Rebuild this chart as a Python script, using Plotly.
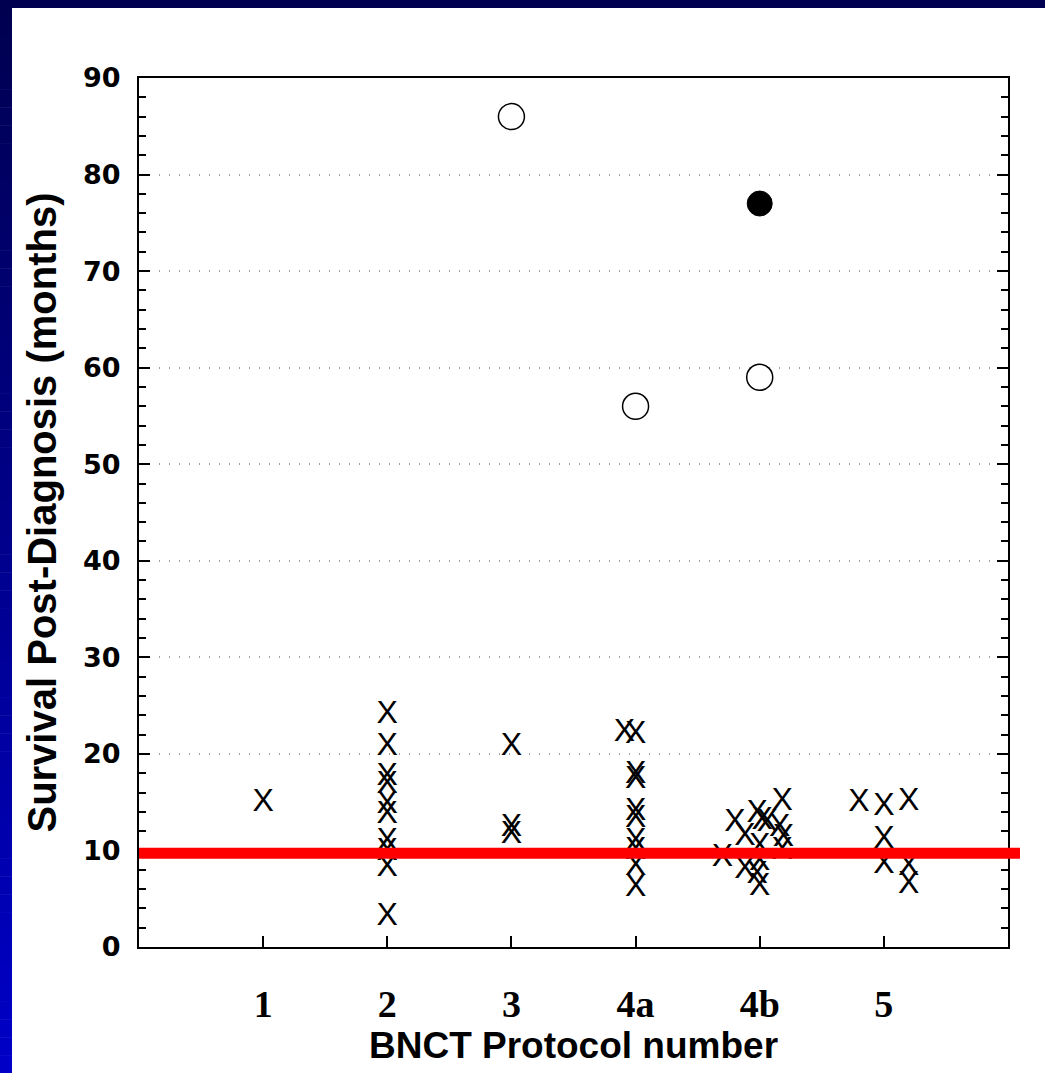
import plotly.graph_objects as go

# ---------------- data ----------------
protocols = ["1", "2", "3", "4a", "4b", "5"]
protocol_pos = [1, 2, 3, 4, 5, 6]

# deceased patients (drawn as "X"): protocol slot incl. the chart's horizontal jitter, survival in months
dead_pos = [1,
            2, 2, 2, 2, 2, 2, 2, 2, 2, 2,
            3, 3, 3,
            3.91, 4, 4, 4, 4, 4, 4, 4, 4, 4,
            4.70, 4.80, 4.88, 4.88, 4.98, 5.02, 5.06, 5.0, 5.0, 4.98, 5.0, 5.18, 5.16, 5.19, 5.18,
            5.80, 6.0, 6.20, 6.0, 6.0, 6.20, 6.20]
dead_months = [14.9,
               24.0, 20.7, 17.6, 16.8, 14.7, 13.7, 10.9, 9.8, 8.2, 3.1,
               20.7, 12.3, 11.6,
               22.2, 22.0, 17.8, 17.3, 14.0, 13.3, 10.9, 9.9, 8.3, 6.1,
               9.2, 12.8, 11.4, 8.0, 13.8, 13.1, 12.8, 10.4, 8.8, 7.5, 6.2, 15.0, 12.3, 11.3, 9.9,
               14.9, 14.5, 15.0, 11.1, 8.5, 8.3, 6.4]

# open circles
open_pos = [3, 4, 5]
open_months = [86, 56, 59]
# filled circle
filled_pos = [5]
filled_months = [77]

median_months = 9.7

y_ticks = [0, 10, 20, 30, 40, 50, 60, 70, 80, 90]

# ---------------- layout geometry ----------------
W, H = 1045, 1073
L, R, T, B = 139, 37, 78, 126
PW, PH = W - L - R, H - T - B


def px_x(px):
    return (px - L) / PW


def px_y(py):
    return (H - B - py) / PH


fig = go.Figure()

fig.add_trace(go.Scatter(
    x=dead_pos, y=dead_months, mode="text", text=["X"] * len(dead_pos),
    textposition="middle center",
    textfont=dict(family="Liberation Sans, Arial", size=32, color="black"),
    cliponaxis=False, showlegend=False, hoverinfo="x+y"))

fig.add_trace(go.Scatter(
    x=open_pos, y=open_months, mode="markers",
    marker=dict(symbol="circle", size=26, color="white",
                line=dict(color="black", width=1.5)),
    showlegend=False))

fig.add_trace(go.Scatter(
    x=filled_pos, y=filled_months, mode="markers",
    marker=dict(symbol="circle", size=25, color="black",
                line=dict(color="black", width=1)),
    showlegend=False))

shapes = []
# blue frame (left strip gradient + top strip)
n = 60
top_c = (0, 0, 80)
bot_c = (0, 0, 200)
for i in range(n):
    y0 = H * i / n
    y1 = H * (i + 1) / n + 0.5
    t = (i + 0.5) / n
    c = tuple(int(round(top_c[k] + (bot_c[k] - top_c[k]) * t)) for k in range(3))
    shapes.append(dict(type="rect", xref="paper", yref="paper",
                       x0=px_x(0), x1=px_x(12), y0=px_y(y1), y1=px_y(y0),
                       fillcolor="rgb(%d,%d,%d)" % c, line=dict(width=0), layer="below"))
shapes.append(dict(type="rect", xref="paper", yref="paper",
                   x0=px_x(0), x1=px_x(W), y0=px_y(8), y1=px_y(0),
                   fillcolor="rgb(0,0,80)", line=dict(width=0), layer="below"))
# median survival line
shapes.append(dict(type="line", xref="paper", yref="y",
                   x0=0, x1=px_x(1020), y0=median_months, y1=median_months,
                   line=dict(color="#ff0000", width=11), layer="above"))

fig.update_layout(
    width=W, height=H,
    margin=dict(l=L, r=R, t=T, b=B, pad=0),
    paper_bgcolor="white", plot_bgcolor="white",
    shapes=shapes,
    xaxis=dict(
        range=[0, 7], tickmode="array", tickvals=protocol_pos, ticktext=protocols,
        ticks="inside", ticklen=11, tickwidth=1.5, tickcolor="black",
        showline=True, linecolor="black", linewidth=2, mirror=True,
        showgrid=False, zeroline=False,
        tickfont=dict(family="Liberation Serif, Times New Roman", size=38,
                      color="black", weight="bold"),
        ticklabelstandoff=22,
        title=dict(text="BNCT Protocol number", standoff=4,
                   font=dict(family="Liberation Sans, Arial", size=37,
                             color="black", weight="bold")),
    ),
    yaxis=dict(
        range=[0, 90], tickmode="array", tickvals=y_ticks,
        ticks="inside", ticklen=11, tickwidth=1.5, tickcolor="black",
        minor=dict(dtick=2, ticks="inside", ticklen=7, tickwidth=1.5,
                   tickcolor="black", showgrid=False),
        showline=True, linecolor="black", linewidth=2, mirror="allticks",
        showgrid=True, gridcolor="#a0a0a0", gridwidth=1.5, griddash="1px,9px",
        zeroline=False,
        tickfont=dict(family="DejaVu Sans", size=27, color="black", weight="bold"),
        ticklabelstandoff=11,
        title=dict(text="Survival Post-Diagnosis (months)", standoff=14,
                   font=dict(family="Liberation Sans, Arial", size=40,
                             color="black", weight="bold")),
    ),
)

fig.write_html("out.html",
               config={"displayModeBar": False},
               post_script="document.body.style.margin='0';document.body.style.padding='0';")
